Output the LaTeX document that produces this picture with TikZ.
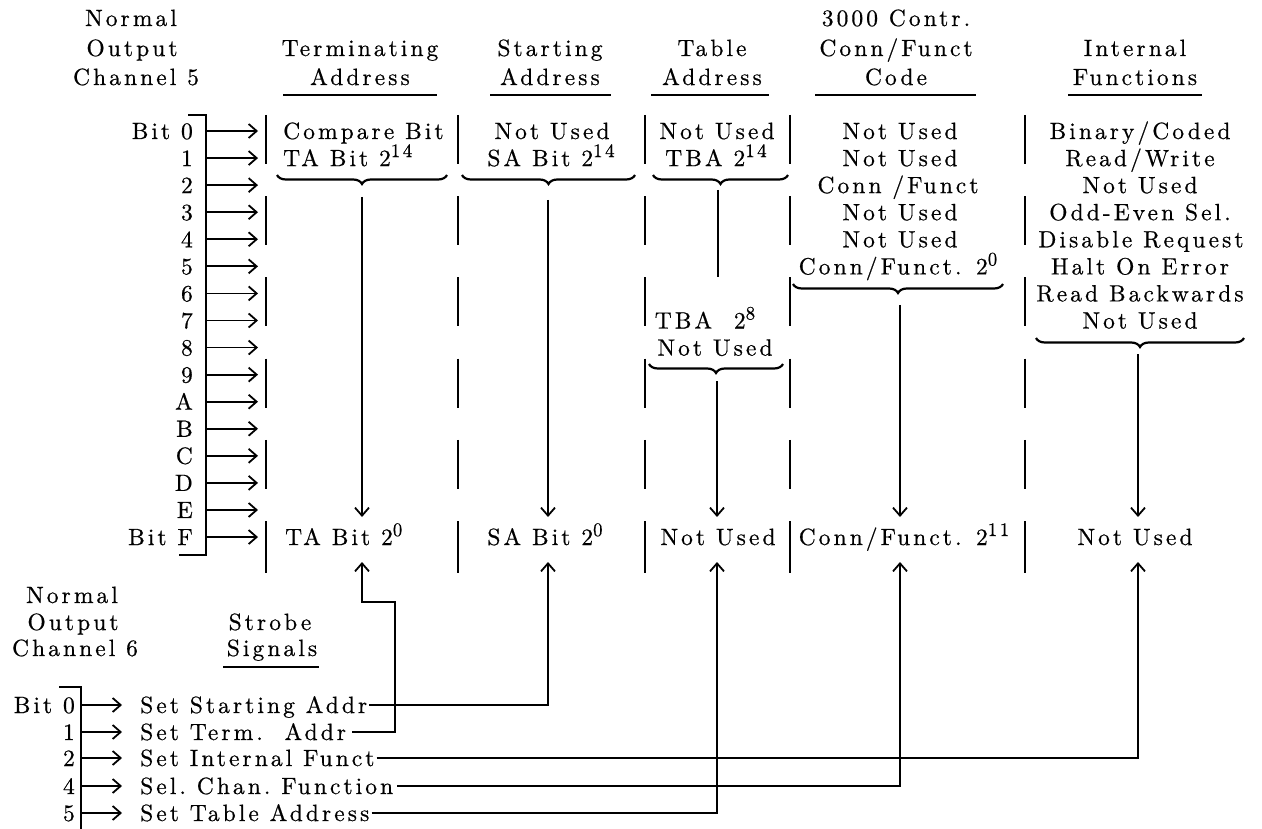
\documentclass[tikz,border=0pt]{standalone}
\usepackage{fontspec}
\setmainfont{lmroman10-regular.otf}[LetterSpace=13,FakeBold=0.6]
\usetikzlibrary{arrows.meta,decorations.pathreplacing}
\newcommand\supx[1]{\raisebox{9pt}{\fontsize{19}{19}\selectfont #1}}
\begin{document}
\begin{tikzpicture}[x=1pt,y=-1pt,
  txt/.style={font=\fontsize{23.5}{28}\selectfont\rmfamily, inner sep=0pt, text height=16pt, text depth=0pt},
  ln/.style={line width=1.8pt},
  arr/.style={line width=1.8pt, -{Straight Barb[length=8pt,width=14pt]}},
  brc/.style={line width=2.2pt, decorate, decoration={brace,mirror,amplitude=9pt}},
  dv/.style={line width=1.8pt},
  ul/.style={line width=1.8pt}]
\useasboundingbox (0,0) rectangle (1262,829);

% ---------- headers ----------
\node[txt] (h5a) at (131,18) {Normal};
\node[txt] (h5b) at (132,48) {Output};
\node[txt] (h5c) at (136,77) {Channel 5};
\node[txt] (hta) at (360,48) {Terminating};
\node[txt] (htb) at (360,77) {Address};
\node[txt] (hsa) at (550,48) {Starting};
\node[txt] (hsb) at (550,77) {Address};
\node[txt] (hba) at (712,48) {Table};
\node[txt] (hbb) at (712,77) {Address};
\node[txt] (hca) at (896,18) {3000 Contr.};
\node[txt] (hcb) at (896,48) {Conn/Funct};
\node[txt] (hcc) at (896,77) {Code};
\node[txt] (hia) at (1135,48) {Internal};
\node[txt] (hib) at (1135,77) {Functions};
\draw[ul] (283,95) -- (437,95);
\draw[ul] (490,95) -- (611,95);
\draw[ul] (651,95) -- (769,95);
\draw[ul] (815,95) -- (976,95);
\draw[ul] (1068,95) -- (1202,95);

% ---------- channel 5 bits ----------
\foreach \i/\l in {0/{Bit 0},1/1,2/2,3/3,4/4,5/5,6/6,7/7,8/8,9/9,10/A,11/B,12/C,13/D,14/E,15/{Bit F}}{
  \node[txt,anchor=east] (b\i) at (193,{131+27.07*\i}) {\l};
  \coordinate (ba\i) at (206,{131+27.07*\i});
  \coordinate (be\i) at (258,{131+27.07*\i});
  \draw[arr] (ba\i) -- (be\i);
}
\coordinate (bt) at (206,115);
\coordinate (bb) at (206,555);
\draw[ln] (188,115) -- (bt) -- (bb) -- (179,555);

% ---------- column dividers ----------
\foreach \x in {266,458,645,790,1025}{
  \foreach \k in {0,...,4}{
    \draw[dv] (\x,{115+81.21*\k}) -- (\x,{164+81.21*\k});
  }
  \draw[dv] (\x,521) -- (\x,573);
}

% ---------- Terminating address ----------
\node[txt,anchor=west] (ta0) at (283,131) {Compare Bit};
\node[txt,anchor=west] (ta1) at (283,158.1) {TA Bit 2\supx{14}};
\node[txt,anchor=west] (taF) at (285,537) {TA Bit 2\supx{0}};
\draw[brc] (277,175) -- (447,175);
\coordinate (taS) at (362,197);
\coordinate (taE) at (362,517);
\draw[arr] (taS) -- (taE);

% ---------- Starting address ----------
\node[txt] (sa0) at (552,131) {Not Used};
\node[txt] (sa1) at (551,158.1) {SA Bit 2\supx{14}};
\node[txt] (saF) at (545,537) {SA Bit 2\supx{0}};
\draw[brc] (462,175) -- (635,175);
\coordinate (saS) at (548,200);
\coordinate (saE) at (548,517);
\draw[arr] (saS) -- (saE);

% ---------- Table address ----------
\node[txt] (tb0) at (717,131) {Not Used};
\node[txt] (tb1) at (716,158.1) {TBA 2\supx{14}};
\draw[brc] (653,175) -- (788,175);
\coordinate (tbS) at (718,190);
\coordinate (tbM) at (718,277);
\draw[ln] (tbS) -- (tbM);
\node[txt] (tb7) at (705,320.5) {TBA\ \ 2\supx{8}};
\node[txt] (tb8) at (715,347.6) {Not Used};
\draw[brc] (649,364) -- (783,364);
\coordinate (tbS2) at (717,381);
\coordinate (tbE) at (717,517);
\draw[arr] (tbS2) -- (tbE);
\node[txt] (tbF) at (718,537) {Not Used};

% ---------- Conn/Funct code ----------
\node[txt] (cn0) at (900,131) {Not Used};
\node[txt] (cn1) at (900,158.1) {Not Used};
\node[txt] (cn2) at (898,185.1) {Conn /Funct};
\node[txt] (cn3) at (900,212.2) {Not Used};
\node[txt] (cn4) at (900,239.3) {Not Used};
\node[txt] (cn5) at (898,266.4) {Conn/Funct. 2\supx{0}};
\draw[brc] (793,284) -- (1003,284);
\coordinate (cnS) at (900,305);
\coordinate (cnE) at (900,517);
\draw[arr] (cnS) -- (cnE);
\node[txt] (cnF) at (904,537) {Conn/Funct. 2\supx{11}};

% ---------- Internal functions ----------
\node[txt] (in0) at (1140,131) {Binary/Coded};
\node[txt] (in1) at (1140,158.1) {Read/Write};
\node[txt] (in2) at (1140,185.1) {Not Used};
\node[txt] (in3) at (1140,212.2) {Odd-Even Sel.};
\node[txt] (in4) at (1141,239.3) {Disable Request};
\node[txt] (in5) at (1140,266.4) {Halt On Error};
\node[txt] (in6) at (1140,293.4) {Read Backwards};
\node[txt] (in7) at (1140,320.5) {Not Used};
\draw[brc] (1036,338) -- (1244,338);
\coordinate (inS) at (1138,354);
\coordinate (inE) at (1138,517);
\draw[arr] (inS) -- (inE);
\node[txt] (inF) at (1135,537) {Not Used};

% ---------- channel 6 / strobe ----------
\node[txt] (n6a) at (72,595) {Normal};
\node[txt] (n6b) at (73,622) {Output};
\node[txt] (n6c) at (75,648) {Channel 6};
\node[txt] (sg1) at (270,622) {Strobe};
\node[txt] (sg2) at (272,648) {Signals};
\draw[ul] (223,667) -- (319,667);
\coordinate (ct) at (81,687);
\coordinate (cb) at (81,829);
\draw[ln] (59,687) -- (ct) -- (cb);
\foreach \i/\l/\y in {0/{Bit 0}/705,1/1/732,2/2/758,4/4/786,5/5/813}{
  \node[txt,anchor=east] (c\i) at (75,\y) {\l};
  \coordinate (ca\i) at (81,\y);
  \coordinate (ce\i) at (122,\y);
  \draw[arr] (ca\i) -- (ce\i);
}
\node[txt,anchor=west] (s0) at (140,705) {Set Starting Addr};
\node[txt,anchor=west] (s1) at (140,732) {Set Term.\ \ Addr};
\node[txt,anchor=west] (s2) at (140,758) {Set Internal Funct};
\node[txt,anchor=west] (s4) at (140,786) {Sel.\ Chan.\ Function};
\node[txt,anchor=west] (s5) at (140,813) {Set Table Address};

\coordinate (taU) at (362,562);
\coordinate (saU) at (548,562);
\coordinate (tbU) at (717,562);
\coordinate (cnU) at (900,562);
\coordinate (inU) at (1138,562);
\coordinate (tk) at (395,602);

\draw[arr] ([xshift=2pt]s0.east) -| (saU);
\draw[arr] ([xshift=6pt]s1.east) -| (tk) -| (taU);
\draw[arr] ([xshift=2pt]s2.east) -| (inU);
\draw[arr] ([xshift=4pt]s4.east) -| (cnU);
\draw[arr] ([xshift=2pt]s5.east) -| (tbU);
\end{tikzpicture}
\end{document}
